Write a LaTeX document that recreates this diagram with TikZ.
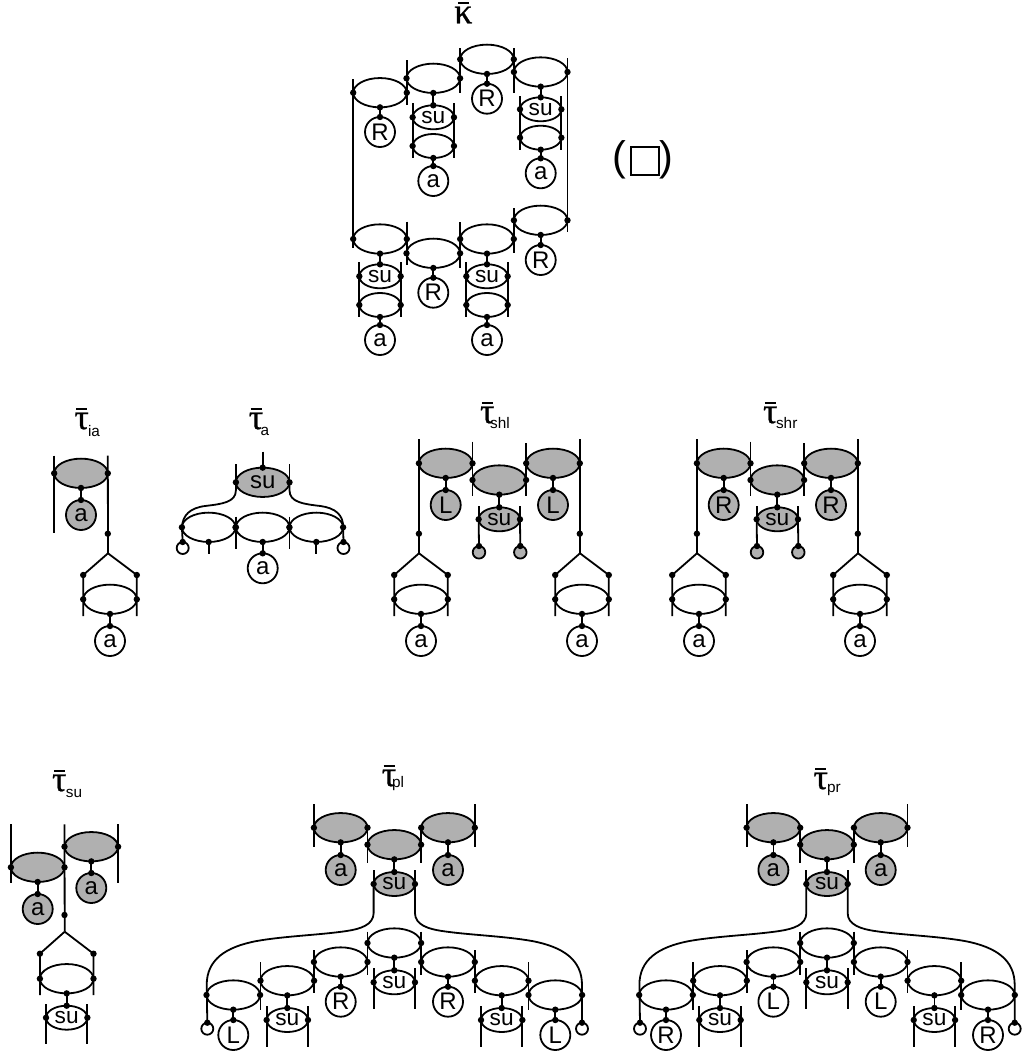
\documentclass[tikz,border=0pt]{standalone}
\usepackage{fontspec}
\setmainfont{Liberation Sans}
\newfontfamily\symf[FakeBold=0.6]{Liberation Serif}
\usetikzlibrary{shapes.geometric,calc}
\definecolor{gr}{HTML}{B0B0B0}
\tikzset{
  x=0.75pt,y=-0.75pt,
  wire/.style={line width=1.35pt,line cap=butt},
  bigell/.style={ellipse,draw,line width=1.35pt,minimum width=40.2pt,minimum height=22pt,inner sep=0pt,outer sep=0pt},
  litell/.style={ellipse,draw,line width=1.35pt,minimum width=31pt,minimum height=18pt,inner sep=0pt,outer sep=0pt,font=\fontsize{17}{17}\selectfont},
  lbl/.style={circle,draw,line width=1.35pt,minimum size=22.5pt,inner sep=0pt,outer sep=0pt,font=\fontsize{18}{18}\selectfont},
  tiny/.style={circle,draw,line width=1.35pt,minimum size=9pt,inner sep=0pt,outer sep=0pt},
  sym/.style={inner sep=0pt,font=\symf\fontsize{27}{27}\selectfont},
  subs/.style={inner sep=0pt,font=\fontsize{11.5}{11.5}\selectfont},
}
% dot
\newcommand\Dt[1]{\fill (#1) circle (2.4pt);}
% big ellipse: name x y fill text
\newcommand\Eb[5]{\node[bigell,fill=#4,font=\fontsize{18}{18}\selectfont] (#1) at (#2,#3) {#5};\Dt{#1.west}\Dt{#1.east}}
% small ellipse
\newcommand\Es[5]{\node[litell,fill=#4] (#1) at (#2,#3) {#5};\Dt{#1.west}\Dt{#1.east}}
% label circle
\newcommand\Cl[5]{\node[lbl,fill=#4] (#1) at (#2,#3) {#5};}
% stem
\newcommand\Lk[2]{\draw[wire] (#1.south) -- (#2.north);\Dt{#1.south}\Dt{#2.north}}
% side bars
\newcommand\Bl[3]{\draw[wire] (#1.west |- 0,#2) -- (#1.west |- 0,#3);}
\newcommand\Br[3]{\draw[wire] (#1.east |- 0,#2) -- (#1.east |- 0,#3);}
% fork: name xapex yapex (line from above ends at apex)
\newcommand\Fork[3]{%
  \coordinate (#1ap) at (#2,#3);
  \Eb{#1}{#2+2}{#3+46}{white}{}
  \Cl{#1c}{#2+2}{#3+87.7}{white}{a}
  \Lk{#1}{#1c}
}
\newcommand\Prongs[3]{%
  \coordinate (#1l) at (#1.west |- 0,#2);
  \coordinate (#1r) at (#1.east |- 0,#2);
  \draw[wire] (#1ap) -- (#1l) -- (#1.west |- 0,#3);
  \draw[wire] (#1ap) -- (#1r) -- (#1.east |- 0,#3);
  \Dt{#1l}\Dt{#1r}
}
% title
\newcommand\Ttl[7]{%
  \node[sym] (#1) at (#2,#3) {#4};
  \draw[line width=1.9pt] (#2-5.5,#3-12) -- (#2+5.5,#3-12);
  \ifx\relax#5\relax\else\node[subs] (#1s) at (#6,#7) {#5};\fi
}
% shl/shr bodies
\newcommand\TauSh[1]{%
  \Eb{e1}{445.7}{463.3}{gr}{}
  \Eb{e2}{499.3}{480}{gr}{}
  \Eb{e3}{553}{463.3}{gr}{}
  \Cl{c1}{445.7}{505}{gr}{#1}
  \Cl{c3}{553}{505}{gr}{#1}
  \Es{s}{499.3}{519.3}{gr}{su}
  \Lk{e1}{c1}\Lk{e3}{c3}\Lk{e2}{s}
  \node[tiny,minimum size=9.4pt,fill=gr] (t1) at (479,552.3) {};
  \node[tiny,minimum size=9.4pt,fill=gr] (t2) at (520.3,552.3) {};
  \draw[wire] (s.west) -- (t1.north); \draw[wire] (s.west) -- (s.west |- 0,505.7);
  \draw[wire] (s.east) -- (t2.north); \draw[wire] (s.east) -- (s.east |- 0,505.7);
  \Dt{t1.north}\Dt{t2.north}
  \Bl{e2}{441.7}{496}\Br{e2}{443}{496}
  \Fork{fa}{419}{553.3}
  \Fork{fb}{580}{553.3}
  \Prongs{fa}{575}{616}\Prongs{fb}{575}{616}
  \draw[wire] (e1.west |- 0,439.3) -- (fbap -| e1.west);
  \draw[wire] (e3.east |- 0,439.3) -- (fbap -| e3.east);
  \fill (e1.west |- 0,533.7) circle (2.4pt);
  \fill (e3.east |- 0,533.7) circle (2.4pt);
}
% pl/pr bodies
\newcommand\TauP[2]{%
  \Eb{e1}{340.7}{827.7}{gr}{}
  \Eb{e2}{394.3}{844.7}{gr}{}
  \Eb{e3}{448}{827.7}{gr}{}
  \Cl{c1}{340.7}{870}{gr}{a}
  \Cl{c3}{448}{870}{gr}{a}
  \Es{s}{394.3}{884}{gr}{su}
  \Lk{e1}{c1}\Lk{e3}{c3}\Lk{e2}{s}
  \Bl{e1}{804}{846.7}\Br{e1}{825}{863}
  \Br{e3}{804}{846.7}\Bl{e3}{825}{863}
  \Eb{l1}{233.3}{995}{white}{}
  \Eb{l2}{287.3}{980.7}{white}{}
  \Eb{l3}{340.7}{962}{white}{}
  \Eb{l4}{394.3}{943}{white}{}
  \Eb{l5}{448}{962}{white}{}
  \Eb{l6}{501.7}{980.7}{white}{}
  \Eb{l7}{555.3}{995}{white}{}
  \Cl{b1}{233.3}{1035}{white}{#1}
  \Es{b2}{287.3}{1020}{white}{su}
  \Cl{b3}{340.7}{1001.7}{white}{#2}
  \Es{b4}{394.3}{982.3}{white}{su}
  \Cl{b5}{448}{1001.7}{white}{#2}
  \Es{b6}{501.7}{1020}{white}{su}
  \Cl{b7}{555.3}{1035}{white}{#1}
  \Lk{l1}{b1}\Lk{l2}{b2}\Lk{l3}{b3}\Lk{l4}{b4}\Lk{l5}{b5}\Lk{l6}{b6}\Lk{l7}{b7}
  \Bl{l2}{962.3}{1010}\Bl{l3}{950}{993}\Bl{l4}{931.7}{975}
  \Br{l4}{931.7}{975}\Br{l5}{950}{993}\Br{l6}{962.3}{1010}
  \Bl{b2}{1006}{1046.7}\Br{b2}{1006}{1046.7}
  \Bl{b4}{968}{1009}\Br{b4}{968}{1009}
  \Bl{b6}{1006}{1046.7}\Br{b6}{1006}{1046.7}
  \node[tiny,minimum size=9pt] (t1) at (207.3,1028.7) {};
  \node[tiny,minimum size=9pt] (t2) at (582,1028.7) {};
  \draw[wire] (s.west) -- (s.west |- 0,870);
  \draw[wire] (s.east) -- (s.east |- 0,870);
  \draw[wire] (s.west) -- (s.west |- 0,913) .. controls +(0,12) and (360,929) .. (346.7,931)
     .. controls (320,935) and (285,936) .. (256.7,941)
     .. controls (225,947) and (206.7,960) .. (206.7,985) -- (t1.north);
  \draw[wire] (s.east) -- (s.east |- 0,913) .. controls +(0,12) and (428.6,929) .. (442,931)
     .. controls (468.6,935) and (503.6,936) .. (532,941)
     .. controls (563.6,947) and (582,960) .. (582,985) -- (t2.north);
  \Dt{t1.north}\Dt{t2.north}
}
\begin{document}
\begin{tikzpicture}
\useasboundingbox (0,0) rectangle (1021,1053);
% ---------- kappa
\Ttl{kap}{463.3}{15}{κ}{}{0}{0}
\Eb{k1}{380}{92.7}{white}{}
\Eb{k2}{433.3}{78.3}{white}{}
\Eb{k3}{487}{59.3}{white}{}
\Eb{k4}{540.7}{72}{white}{}
\Eb{k5}{380}{239}{white}{}
\Eb{k6}{433.3}{253.3}{white}{}
\Eb{k7}{487}{239}{white}{}
\Eb{k8}{540.7}{220.3}{white}{}
\Cl{kr1}{380}{132}{white}{R}
\Es{ks2}{433.3}{117.3}{white}{su}
\Es{km2}{433.3}{146}{white}{}
\Cl{ka2}{433.3}{181}{white}{a}
\Cl{kr3}{487}{98.7}{white}{R}
\Es{ks4}{540.7}{109.3}{white}{su}
\Es{km4}{540.7}{137.7}{white}{}
\Cl{ka4}{540.7}{173.3}{white}{a}
\Es{ks5}{380}{276.3}{white}{su}
\Es{km5}{380}{305}{white}{}
\Cl{ka5}{380}{340}{white}{a}
\Cl{kr6}{433.3}{292.7}{white}{R}
\Es{ks7}{487}{276.3}{white}{su}
\Es{km7}{487}{305}{white}{}
\Cl{ka7}{487}{340}{white}{a}
\Cl{kr8}{540.7}{260}{white}{R}
\Lk{k1}{kr1}\Lk{k2}{ks2}\Lk{km2}{ka2}\Lk{k3}{kr3}\Lk{k4}{ks4}\Lk{km4}{ka4}
\Lk{k5}{ks5}\Lk{km5}{ka5}\Lk{k6}{kr6}\Lk{k7}{ks7}\Lk{km7}{ka7}\Lk{k8}{kr8}
\Bl{k1}{79}{248}
\Br{k1}{60}{105}
\Br{k2}{48}{93}
\Br{k3}{48}{92.7}
\Br{k4}{58.3}{231.7}
\Br{k5}{221.7}{265}
\Br{k6}{222}{268}
\Br{k7}{208}{253}
\Bl{ks2}{103.3}{158.3}\Br{ks2}{103.3}{158.3}
\Bl{ks4}{96}{150}\Br{ks4}{96}{150}
\Bl{ks5}{262.3}{316.7}\Br{ks5}{262.3}{316.7}
\Bl{ks7}{262.3}{316.7}\Br{ks7}{262.3}{316.7}
\node[inner sep=0pt,font=\fontsize{31}{31}\selectfont] (lp) at (619.7,160) {(};
\node[inner sep=0pt,font=\fontsize{31}{31}\selectfont] (rp) at (666.7,160) {)};
\node[draw,line width=1.35pt,minimum size=21pt,inner sep=0pt,outer sep=0pt] (bx) at (645.2,160.8) {};
% ---------- tau ia
\Ttl{tia}{81.7}{421}{τ}{ia}{94}{431.5}
\Eb{a1}{81}{473.3}{gr}{}
\Cl{a1c}{81}{515}{gr}{a}
\Lk{a1}{a1c}
\Bl{a1}{455.7}{533}
\Fork{af}{108}{553.3}
\Prongs{af}{575}{616}
\draw[wire] (a1.east |- 0,455.7) -- (afap);
\Dt{a1.east |- 0,533.7}
% ---------- tau a
\Ttl{tau}{256}{421}{τ}{a}{265}{431}
\Eb{u0}{262.7}{482.3}{gr}{su}
\coordinate (utop) at (262.7,451.7);
\draw[wire] (utop) -- (u0.north); \Dt{u0.north}
\Eb{u1}{208.7}{527.3}{white}{}
\Eb{u2}{262.7}{527.3}{white}{}
\Eb{u3}{316.3}{527.3}{white}{}
\Cl{uc}{262.7}{568.3}{white}{a}
\Lk{u2}{uc}
\Bl{u0}{464}{490}\Br{u0}{464}{490}
\Bl{u2}{516.7}{549}\Br{u2}{516.7}{549}
\node[tiny] (ut1) at (182.7,548) {};
\node[tiny] (ut2) at (343.5,548) {};
\draw[wire] (u0.west) -- +(0,8) .. controls +(0,12) and (222,504) .. (205,506) .. controls (190,508) and (182.7,515) .. (u1.west) -- (ut1.north);
\draw[wire] (u0.east) -- +(0,8) .. controls +(0,12) and (303.4,504) .. (320.4,506) .. controls (335.4,508) and (343.5,515) .. (u3.east) -- (ut2.north);
\Dt{ut1.north}\Dt{ut2.north}
\coordinate (us1) at (208.7,554); \coordinate (us3) at (316.3,554);
\draw[wire] (u1.south) -- (us1); \draw[wire] (u3.south) -- (us3);
\Dt{u1.south}\Dt{u3.south}
% ---------- tau shl, shr
\begin{scope}[name prefix=hl-]
\Ttl{t}{487.3}{415}{τ}{shl}{500}{423.5}
\TauSh{L}
\end{scope}
\begin{scope}[name prefix=hr-,shift={(278,0)}]
\Ttl{t}{492.3}{415}{τ}{shr}{508.7}{423}
\TauSh{R}
\end{scope}
% ---------- tau su
\Ttl{tsu}{59.3}{783}{τ}{su}{74}{793.5}
\Eb{v1}{37.7}{867.3}{gr}{}
\Eb{v2}{91.3}{846.7}{gr}{}
\Cl{v1c}{37.7}{909}{gr}{a}
\Cl{v2c}{91.3}{888}{gr}{a}
\Lk{v1}{v1c}\Lk{v2}{v2c}
\Bl{v1}{824.3}{883.3}
\Br{v2}{824.3}{883.3}
\Eb{vm}{66.7}{978.7}{white}{}
\Es{vs}{66.7}{1017.7}{white}{su}
\Lk{vm}{vs}
\coordinate (vap) at (64.7,931.7);
\draw[wire] (v2.west |- 0,824.3) -- (vap);
\Dt{v2.west |- 0,915}
\coordinate (vl) at (vm.west |- 0,953.7); \coordinate (vr) at (vm.east |- 0,953.7);
\draw[wire] (vap) -- (vl) -- (vm.west |- 0,995);
\draw[wire] (vap) -- (vr) -- (vm.east |- 0,995);
\Dt{vl}\Dt{vr}
\Bl{vs}{1004}{1044.3}\Br{vs}{1004}{1044.3}
% ---------- tau pl, pr
\begin{scope}[name prefix=pl-]
\Ttl{t}{389}{778}{τ}{pl}{398}{784}
\TauP{L}{R}
\end{scope}
\begin{scope}[name prefix=pr-,shift={(432.7,0)}]
\Ttl{t}{388}{781}{τ}{pr}{401.3}{790}
\TauP{R}{L}
\end{scope}
\end{tikzpicture}
\end{document}
